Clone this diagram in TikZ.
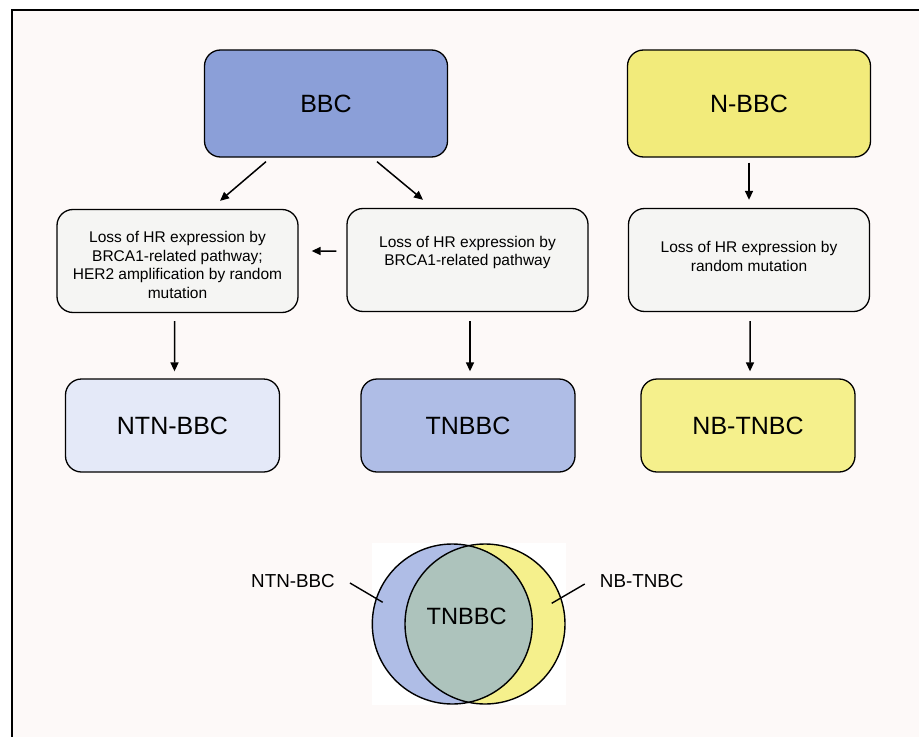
\documentclass[tikz,border=0pt]{standalone}
\usepackage{fontspec}
\setmainfont{Liberation Sans}
\usetikzlibrary{arrows.meta,backgrounds}
\definecolor{pagebg}{RGB}{253,249,248}
\definecolor{bbcblue}{RGB}{139,159,216}
\definecolor{tnblue}{RGB}{175,189,230}
\definecolor{ntnblue}{RGB}{228,233,248}
\definecolor{nyellow}{RGB}{242,235,123}
\definecolor{lyellow}{RGB}{245,240,140}
\definecolor{midgrey}{RGB}{245,245,243}
\definecolor{vint}{RGB}{173,195,188}
\tikzset{
  box/.style={draw=black, line width=1.3bp, rounded corners=16bp, inner sep=0pt},
  bigbox/.style={box, minimum width=243bp, minimum height=107bp, font=\fontsize{25bp}{30bp}\selectfont},
  midbox/.style={box, fill=midgrey, minimum width=241bp, minimum height=103bp},
  lowbox/.style={box, minimum width=214bp, minimum height=93bp, font=\fontsize{25bp}{30bp}\selectfont},
  txt/.style={align=center, font=\fontsize{15.5bp}{18.4bp}\selectfont, inner sep=0pt},
  vlab/.style={font=\fontsize{18.8bp}{22bp}\selectfont, inner sep=0pt},
  arr/.style={line width=1.5bp, -{Triangle[length=9bp,width=8bp]}},
  lead/.style={line width=1.4bp}
}
\begin{document}
\begin{tikzpicture}[x=1bp,y=-1bp]
\useasboundingbox (0,0) rectangle (919,737);
\fill[white] (0,0) rectangle (919,737);
\fill[pagebg] (12,10) rectangle (919,737);
\draw[line width=2bp] (919,10) -- (12,10) -- (12,737);

% top row
\node[bigbox, fill=bbcblue] (bbc) at (326,103.5) {BBC};
\node[bigbox, fill=nyellow] (nbbc) at (749,103.5) {N-BBC};

% middle row
\node[midbox] (lbox) at (177.5,261) {};
\node[midbox] (mbox) at (467.5,260) {};
\node[midbox] (rbox) at (749,260) {};
\node[txt] (ltxt) at (177.5,265) {Loss of HR expression by\\BRCA1-related pathway;\\HER2 amplification by random\\mutation};
\node[txt] (mtxt) at (467.5,252.5) {Loss of HR expression by\\BRCA1-related pathway};
\node[txt] (rtxt) at (749,256.5) {Loss of HR expression by\\random mutation};

% bottom row
\node[lowbox, fill=ntnblue] (ntn) at (172.5,425.5) {NTN-BBC};
\node[lowbox, fill=tnblue] (tn) at (468,425.5) {TNBBC};
\node[lowbox, fill=lyellow] (nbtn) at (748,425.5) {NB-TNBC};

% white backing rectangles
\begin{scope}[on background layer]
\foreach \n in {bbc,nbbc,lbox,mbox,rbox,ntn,tn,nbtn}
  \fill[white] (\n.south west) rectangle (\n.north east);
\end{scope}

% arrows
\draw[arr] ([xshift=-60bp,yshift=-4bp]bbc.south) -- ([xshift=42.5bp,yshift=8bp]lbox.north);
\draw[arr] ([xshift=51bp,yshift=-4bp]bbc.south) -- ([xshift=-44.5bp,yshift=8bp]mbox.north);
\draw[arr] ([yshift=-5bp]nbbc.south) -- ([yshift=8bp]rbox.north);
\draw[arr] ([xshift=-10bp,yshift=9bp]mbox.west) -- ([xshift=13bp,yshift=10bp]lbox.east);
\draw[arr] ([xshift=-3bp,yshift=-8bp]lbox.south) -- ([xshift=2bp,yshift=7bp]ntn.north);
\draw[arr] ([xshift=2.5bp,yshift=-9bp]mbox.south) -- ([xshift=2bp,yshift=7bp]tn.north);
\draw[arr] ([xshift=1bp,yshift=-9bp]rbox.south) -- ([xshift=2bp,yshift=7bp]nbtn.north);

% Venn diagram
\coordinate (lcen) at (452.3,624);
\coordinate (rcen) at (485,624);
\fill[white] (372,543) rectangle (566,705);
\fill[tnblue] (lcen) circle[radius=80];
\fill[lyellow] (rcen) circle[radius=80];
\begin{scope}
  \clip (lcen) circle[radius=80];
  \fill[vint] (rcen) circle[radius=80];
\end{scope}
\draw[line width=1.4bp] (lcen) circle[radius=80];
\draw[line width=1.4bp] (rcen) circle[radius=80];
\node[font=\fontsize{23.6bp}{28bp}\selectfont, inner sep=0pt] (vtn) at (466.7,616.5) {TNBBC};

\node[vlab] (vntn) at (293,581.5) {NTN-BBC};
\node[vlab] (vnb) at (641.7,581.5) {NB-TNBC};
\coordinate (lpt) at (382.7,602.3);
\coordinate (rpt) at (551.7,603.3);
\draw[lead] ([xshift=15bp,yshift=-1.5bp]vntn.east) -- (lpt);
\draw[lead] ([xshift=-15bp,yshift=-2.5bp]vnb.west) -- (rpt);
\end{tikzpicture}
\end{document}
